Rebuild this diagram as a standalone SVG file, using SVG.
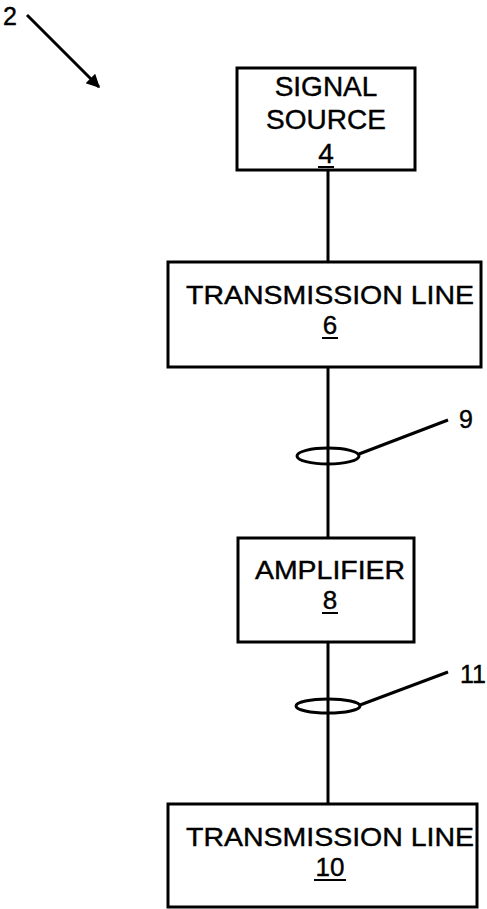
<svg xmlns="http://www.w3.org/2000/svg" width="487" height="909" viewBox="0 0 487 909">
<style>
.box{fill:#fff;stroke:#000;stroke-width:3}
.t{font-family:"Liberation Sans",Arial,sans-serif;font-size:28px;fill:#000;stroke:#000;stroke-width:0.4;text-anchor:middle}
.s{font-size:26px}
.lbl{font-family:"Liberation Sans",Arial,sans-serif;font-size:25px;fill:#000;stroke:#000;stroke-width:0.4}
.ln{stroke:#000;stroke-width:3;fill:none}
.ul{stroke:#000;stroke-width:2}
</style>
<defs>
<marker id="ah" viewBox="0 0 10 10" refX="9" refY="5" markerWidth="5.5" markerHeight="4.5" orient="auto" markerUnits="strokeWidth">
<path d="M0,0 L10,5 L0,10 Z" fill="#000"/>
</marker>
</defs>
<g id="connectors">
<line class="ln" x1="328" y1="170" x2="328" y2="262"/>
<line class="ln" x1="328" y1="367" x2="328" y2="538"/>
<line class="ln" x1="328" y1="642" x2="328" y2="804"/>
<ellipse class="ln" cx="328" cy="456" rx="31" ry="8"/>
<line class="ln" x1="359" y1="454" x2="448" y2="420"/>
<ellipse class="ln" cx="328" cy="706" rx="32" ry="7"/>
<line class="ln" x1="360" y1="705" x2="448" y2="672"/>
<line class="ln" x1="27" y1="15" x2="99" y2="87" stroke-width="3.5" marker-end="url(#ah)"/>
</g>
<g id="label-2"><text class="lbl" x="3" y="25">2</text></g>
<g id="label-9"><text class="lbl" x="459" y="428">9</text></g>
<g id="label-11"><text class="lbl" x="460" y="683">11</text></g>
<g id="node-4">
<rect class="box" x="237" y="68" width="178" height="102"/>
<text class="t" x="326" y="96">SIGNAL</text>
<text class="t" x="326" y="129">SOURCE</text>
<text class="t" x="326" y="163">4</text>
<line class="ul" x1="318" y1="167" x2="334" y2="167"/>
</g>
<g id="node-6">
<rect class="box" x="168" y="262" width="313" height="105"/>
<text class="t s" x="330" y="304" textLength="288" lengthAdjust="spacingAndGlyphs">TRANSMISSION LINE</text>
<text class="t s" x="330" y="334">6</text>
<line class="ul" x1="322" y1="338" x2="338" y2="338"/>
</g>
<g id="node-8">
<rect class="box" x="238" y="538" width="176" height="104"/>
<text class="t s" x="330" y="579" textLength="150" lengthAdjust="spacingAndGlyphs">AMPLIFIER</text>
<text class="t s" x="330" y="609">8</text>
<line class="ul" x1="322" y1="613" x2="338" y2="613"/>
</g>
<g id="node-10">
<rect class="box" x="168" y="804" width="309" height="103"/>
<text class="t s" x="330" y="846" textLength="288" lengthAdjust="spacingAndGlyphs">TRANSMISSION LINE</text>
<text class="t s" x="330" y="876">10</text>
<line class="ul" x1="314" y1="880" x2="346" y2="880"/>
</g>
</svg>
